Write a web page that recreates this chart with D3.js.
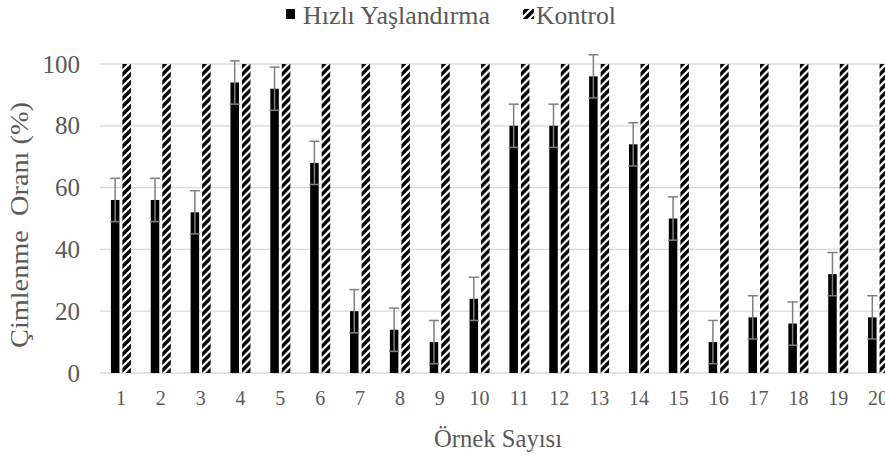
<!DOCTYPE html>
<html>
<head>
<meta charset="utf-8">
<script src="https://cdn.jsdelivr.net/npm/d3@7"></script>
<style>
  body { margin: 0; background: #fff; }
  svg { display: block; }
  svg text { font-family: "Times New Roman", "Liberation Serif", Tinos, "DejaVu Serif", serif; }
</style>
</head>
<body>
<svg id="canvas"></svg>
<script>
// data
let samples = ['1','2','3','4','5','6','7','8','9','10','11','12','13','14','15','16','17','18','19','20'];
let hizli = [56, 56, 52, 94, 92, 68, 20, 14, 10, 24, 80, 80, 96, 74, 50, 10, 18, 16, 32, 18];
let hizliErr = [7, 7, 7, 7, 7, 7, 7, 7, 7, 7, 7, 7, 7, 7, 7, 7, 7, 7, 7, 7];
let kontrol = [100, 100, 100, 100, 100, 100, 100, 100, 100, 100, 100, 100, 100, 100, 100, 100, 100, 100, 100, 100];
let seriesNames = ['Hızlı Yaşlandırma', 'Kontrol'];
let yTicks = [0, 20, 40, 60, 80, 100];

let width = 885;
let height = 457;
let plotLeft = 101, plotRight = 898, plotTop = 64, plotBottom = 373;
let textColor = '#595959';

let canvas = d3.select('#canvas')
  .attr('width', width)
  .attr('height', height);

let defs = canvas.append('defs');
let pat = defs.append('pattern')
  .attr('id', 'hatch')
  .attr('patternUnits', 'userSpaceOnUse')
  .attr('width', 8)
  .attr('height', 8);
pat.append('rect').attr('width', 8).attr('height', 8).attr('fill', '#fff');
pat.append('path')
  .attr('d', 'M-2,2 L2,-2 M0,8 L8,0 M6,10 L10,6')
  .attr('stroke', '#000')
  .attr('stroke-width', 3.4);

let xScale = d3.scaleBand()
  .domain(samples)
  .range([plotLeft, plotRight]);

let subScale = d3.scaleBand()
  .domain(['h', 'k'])
  .range([0, xScale.bandwidth()])
  .paddingInner(0.26)
  .paddingOuter(0.86);

let yScale = d3.scaleLinear()
  .domain([0, 100])
  .range([plotBottom, plotTop]);

// gridlines
canvas.append('g')
  .selectAll('line')
  .data(yTicks)
  .enter()
  .append('line')
  .attr('x1', plotLeft - 1)
  .attr('x2', width)
  .attr('y1', d => yScale(d))
  .attr('y2', d => yScale(d))
  .attr('stroke', '#d9d9d9')
  .attr('stroke-width', 1.3);

// y tick labels
canvas.append('g')
  .selectAll('text')
  .data(yTicks)
  .enter()
  .append('text')
  .attr('x', 80)
  .attr('y', d => yScale(d))
  .attr('dy', '0.34em')
  .attr('text-anchor', 'end')
  .attr('fill', textColor)
  .attr('font-size', 25)
  .text(d => d);

// bars
let groups = canvas.append('g')
  .selectAll('g')
  .data(samples)
  .enter()
  .append('g')
  .attr('transform', d => 'translate(' + xScale(d) + ',0)');

groups.append('rect')
  .attr('x', subScale('h'))
  .attr('width', subScale.bandwidth())
  .attr('y', (d, i) => yScale(hizli[i]))
  .attr('height', (d, i) => plotBottom - yScale(hizli[i]))
  .attr('fill', '#000');

groups.append('rect')
  .attr('x', subScale('k'))
  .attr('width', subScale.bandwidth())
  .attr('y', (d, i) => yScale(kontrol[i]))
  .attr('height', (d, i) => plotBottom - yScale(kontrol[i]))
  .attr('fill', 'url(#hatch)');

// error bars
let ex = subScale('h') + subScale.bandwidth() / 2;
let err = groups.append('g')
  .attr('stroke', '#7f7f7f')
  .attr('stroke-width', 1.5);
err.append('line')
  .attr('x1', ex).attr('x2', ex)
  .attr('y1', (d, i) => yScale(hizli[i] - hizliErr[i]))
  .attr('y2', (d, i) => yScale(hizli[i] + hizliErr[i]));
err.append('line')
  .attr('x1', ex - 5).attr('x2', ex + 5)
  .attr('y1', (d, i) => yScale(hizli[i] + hizliErr[i]))
  .attr('y2', (d, i) => yScale(hizli[i] + hizliErr[i]));
err.append('line')
  .attr('x1', ex - 5).attr('x2', ex + 5)
  .attr('y1', (d, i) => yScale(hizli[i] - hizliErr[i]))
  .attr('y2', (d, i) => yScale(hizli[i] - hizliErr[i]));

// x tick labels
canvas.append('g')
  .selectAll('text')
  .data(samples)
  .enter()
  .append('text')
  .attr('x', d => xScale(d) + xScale.bandwidth() / 2)
  .attr('y', 405)
  .attr('text-anchor', 'middle')
  .attr('fill', textColor)
  .attr('font-size', 20)
  .text(d => d);

// axis titles
canvas.append('text')
  .attr('x', 434)
  .attr('y', 447)
  .attr('fill', textColor)
  .attr('font-size', 25)
  .attr('textLength', 128)
  .attr('lengthAdjust', 'spacingAndGlyphs')
  .text('Örnek Sayısı');

canvas.append('text')
  .attr('transform', 'translate(28,348) rotate(-90)')
  .attr('fill', textColor)
  .attr('font-size', 25)
  .attr('textLength', 246)
  .attr('lengthAdjust', 'spacingAndGlyphs')
  .style('white-space', 'pre')
  .text('Çimlenme  Oranı (%)');

// legend
let legend = canvas.append('g');
legend.append('rect')
  .attr('x', 286).attr('y', 9).attr('width', 9).attr('height', 10)
  .attr('fill', '#000');
legend.append('text')
  .attr('x', 303).attr('y', 24)
  .attr('fill', textColor)
  .attr('font-size', 25)
  .attr('textLength', 187)
  .attr('lengthAdjust', 'spacingAndGlyphs')
  .text(seriesNames[0]);
legend.append('rect')
  .attr('x', 523).attr('y', 9).attr('width', 11).attr('height', 10)
  .attr('fill', 'url(#hatch)');
legend.append('text')
  .attr('x', 536).attr('y', 24)
  .attr('fill', textColor)
  .attr('font-size', 25)
  .attr('textLength', 80)
  .attr('lengthAdjust', 'spacingAndGlyphs')
  .text(seriesNames[1]);
</script>
</body>
</html>
